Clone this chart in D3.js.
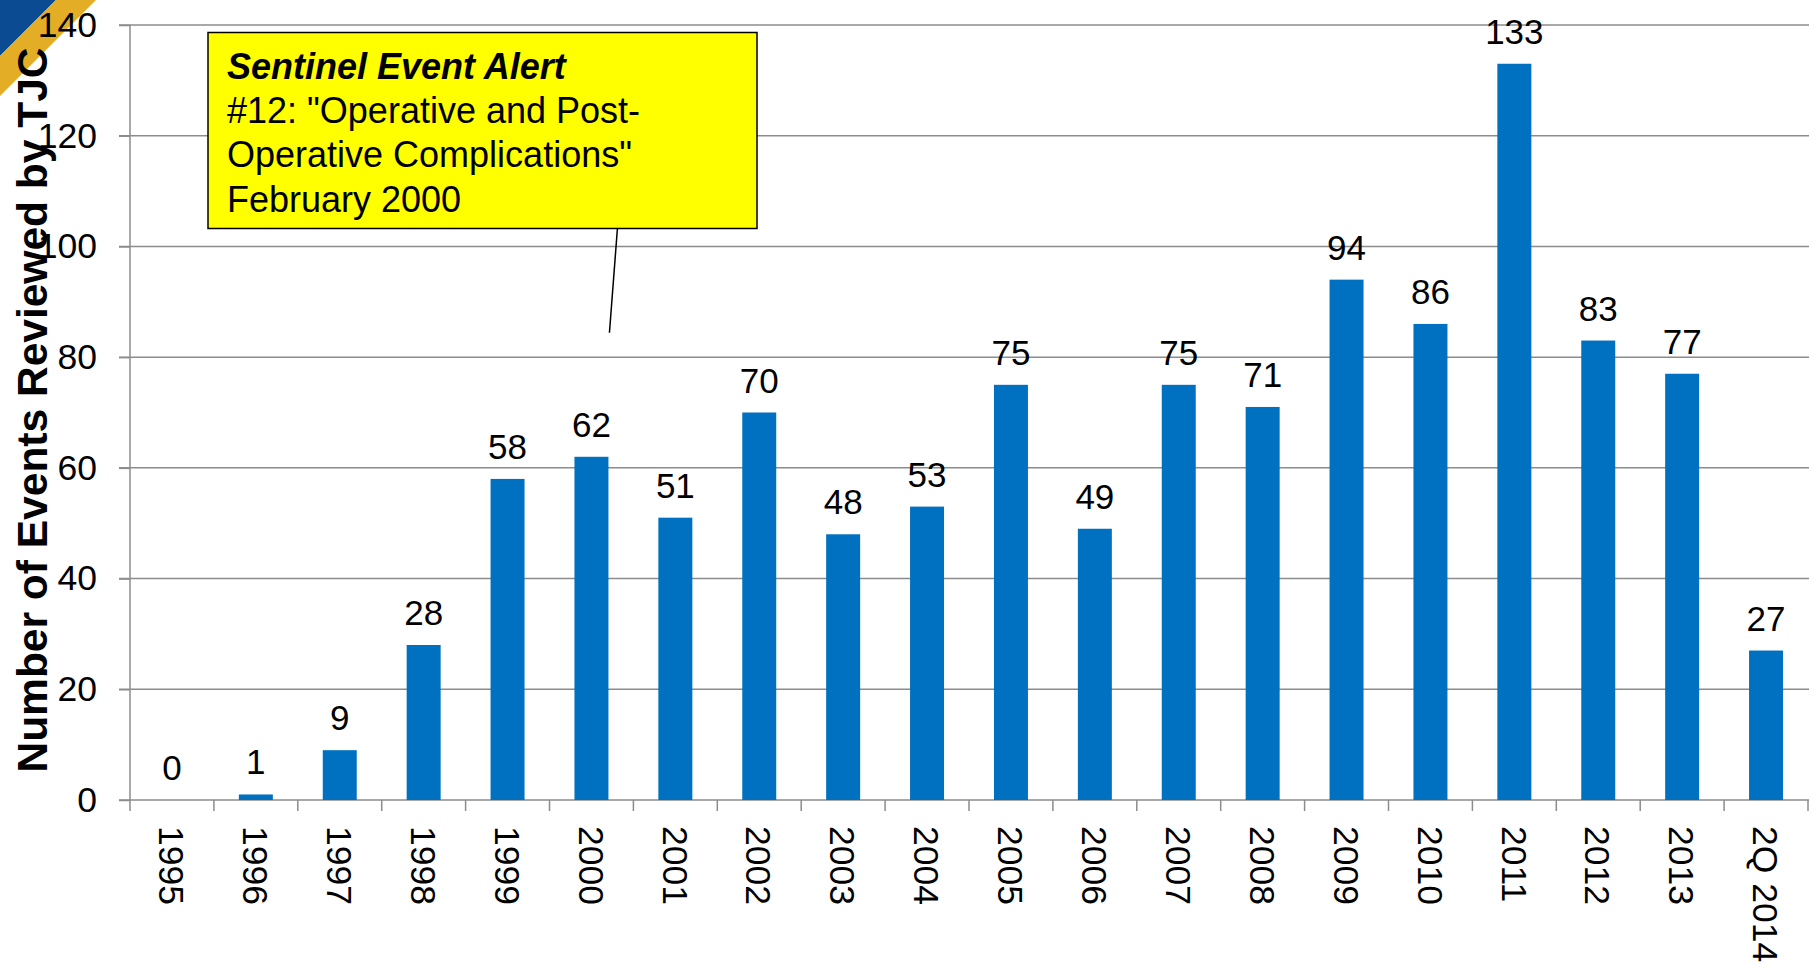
<!DOCTYPE html>
<html><head><meta charset="utf-8">
<script src="https://cdn.jsdelivr.net/npm/d3@7"></script>
<style>
html,body{margin:0;padding:0;background:#fff;overflow:hidden}
text{font-family:"Liberation Sans",Arial,sans-serif;fill:#000}
</style></head><body>
<svg id="c" width="1816" height="973"></svg>
<script>
const categories = ["1995","1996","1997","1998","1999","2000","2001","2002","2003","2004","2005","2006","2007","2008","2009","2010","2011","2012","2013","2Q 2014"];
const values = [0,1,9,28,58,62,51,70,48,53,75,49,75,71,94,86,133,83,77,27];
const yTicks = [0,20,40,60,80,100,120,140];
const yTitle = "Number of Events Reviewed by TJC";
const calloutLines = ["Sentinel Event Alert", "#12: \"Operative and Post-", "Operative Complications\"", "February 2000"];

(function(){
const svg = d3.select("#c");
const pl = 130, pr = 1808, pt = 25, pb = 800;
const x = d3.scaleBand().domain(categories).range([pl, pr]).paddingInner(0.595).paddingOuter(0.2975);
const y = d3.scaleLinear().domain([0,140]).range([pb, pt]);
const grid = "#8c8c8c";

// corner decoration
svg.append("polygon").attr("points","0,0 56,0 0,56").attr("fill","#0a4b91");
svg.append("polygon").attr("points","56,0 96,0 0,96 0,56").attr("fill","#e4ad26");

// gridlines
svg.append("g").selectAll("line").data(yTicks.filter(d=>d>0)).join("line")
  .attr("x1", pl-11).attr("x2", pr+1)
  .attr("y1", d=>y(d)).attr("y2", d=>y(d))
  .attr("stroke", grid).attr("stroke-width", 1.5);

// y axis
const yAxis = d3.axisLeft(y).tickValues(yTicks).tickSize(11).tickPadding(22);
const ga = svg.append("g").attr("transform",`translate(${pl},0)`).call(yAxis);
ga.select(".domain").attr("stroke", grid).attr("stroke-width",1.5).attr("d", `M0,${y(140)}V${y(0)}`);
ga.selectAll(".tick line").attr("stroke", grid).attr("stroke-width",1.5);
ga.selectAll(".tick text").attr("font-size", 35.5).attr("font-family","Liberation Sans, Arial, sans-serif").attr("fill","#000");

// x axis line and ticks at band boundaries
svg.append("line").attr("x1", pl-11).attr("x2", pr+1).attr("y1", pb).attr("y2", pb)
  .attr("stroke", grid).attr("stroke-width",1.5);
const step = x.step();
const bounds = d3.range(categories.length+1).map(i => pl + i*step);
svg.append("g").selectAll("line").data(bounds).join("line")
  .attr("x1", d=>d).attr("x2", d=>d).attr("y1", pb).attr("y2", pb+11)
  .attr("stroke", grid).attr("stroke-width",1.5);

// bars
svg.append("g").selectAll("rect").data(values).join("rect")
  .attr("x", (d,i)=>x(categories[i])).attr("width", x.bandwidth())
  .attr("y", d=>y(d)).attr("height", d=>y(0)-y(d))
  .attr("fill", "#0070c0");

// value labels
svg.append("g").selectAll("text").data(values).join("text")
  .attr("x", (d,i)=>x(categories[i]) + x.bandwidth()/2)
  .attr("y", d=>y(d) - 20)
  .attr("text-anchor","middle").attr("font-size",35)
  .text(d=>d);

// category labels
svg.append("g").selectAll("text").data(categories).join("text")
  .attr("transform", d=>`translate(${x(d)+x.bandwidth()/2},${pb+26}) rotate(90)`)
  .attr("dy","0.36em").attr("font-size",35.5).attr("text-anchor","start")
  .text(d=>d);

// y title
svg.append("text")
  .attr("transform", `translate(47,410) rotate(-90)`)
  .attr("text-anchor","middle")
  .attr("font-size",42.5).attr("font-weight","bold")
  .text(yTitle);

// callout
const cx0 = x("2000") + x.bandwidth()/2;
svg.append("line").attr("x1", cx0 + 18).attr("y1", y(84.4)).attr("x2", cx0 + 26).attr("y2", 228)
  .attr("stroke","#000").attr("stroke-width",1.5);
svg.append("rect").attr("x",208).attr("y",32.5).attr("width",549).attr("height",196)
  .attr("fill","#ffff00").attr("stroke","#000").attr("stroke-width",1.5);
const ct = svg.append("g");
calloutLines.forEach((t,i)=>{
  ct.append("text").attr("x",227).attr("y",78.5 + i*44.4).attr("font-size",36)
    .attr("font-weight", i===0?"bold":"normal").attr("font-style", i===0?"italic":"normal")
    .text(t);
});
})();
</script></body></html>
